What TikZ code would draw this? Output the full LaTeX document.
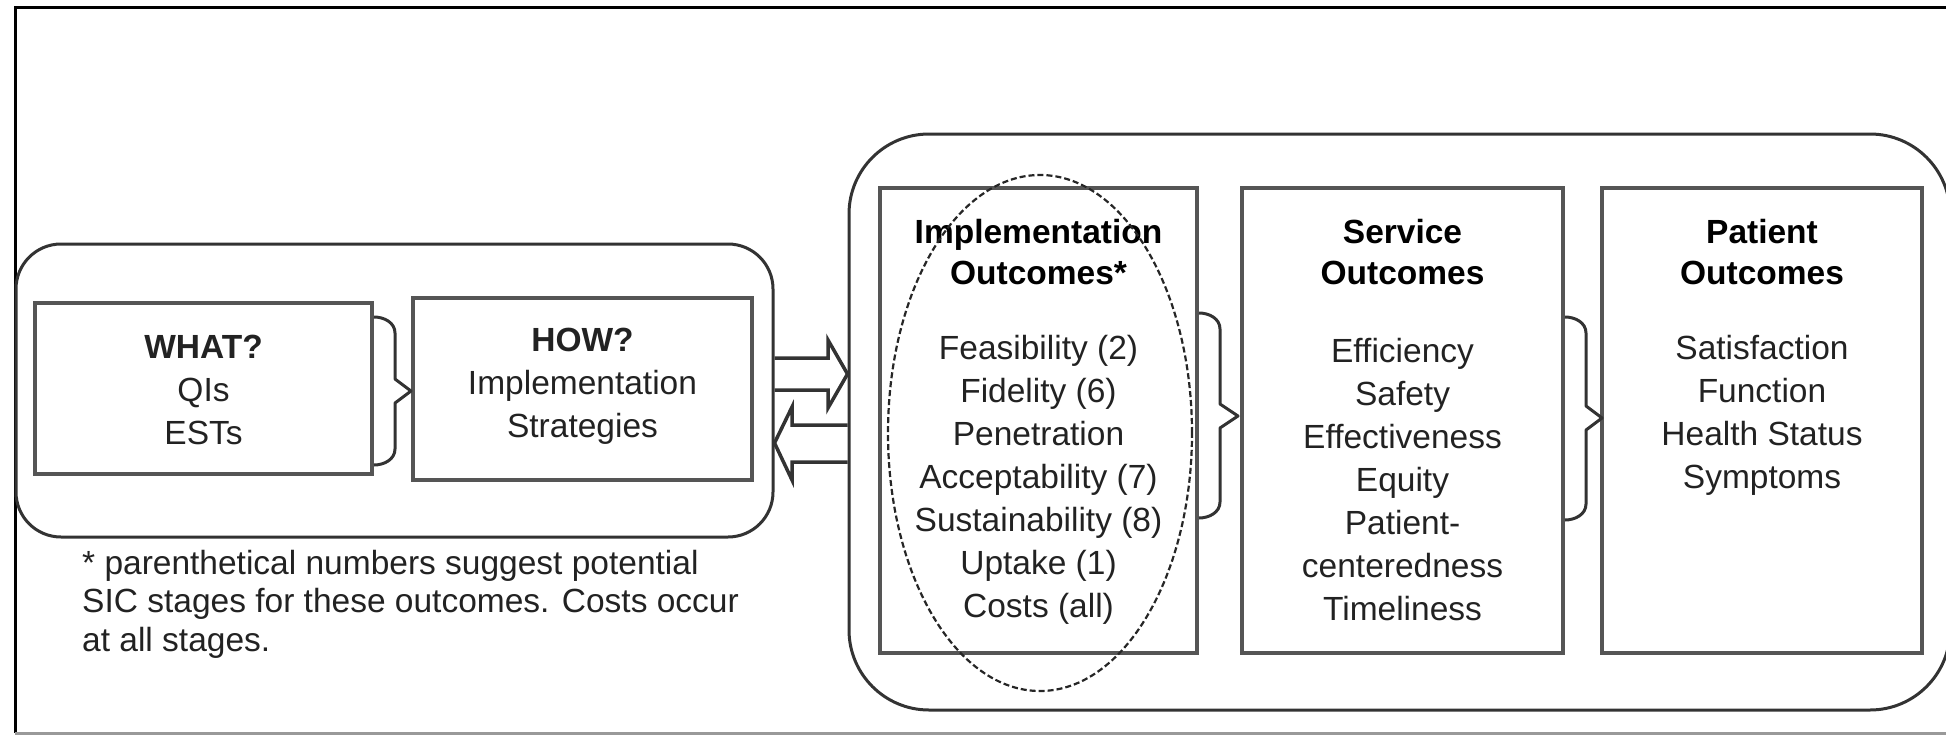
\documentclass[tikz,border=0pt]{standalone}
\usepackage{fontspec}
\setmainfont{Liberation Sans}
\usetikzlibrary{calc,shapes.geometric}
\definecolor{boxline}{HTML}{555555}
\definecolor{groupline}{HTML}{333333}
\definecolor{ink}{HTML}{222222}
\begin{document}
\begin{tikzpicture}[x=1pt,y=-1pt,
  group/.style={draw=groupline, line width=3pt, rounded corners=#1, inner sep=0pt},
  box/.style={draw=boxline, line width=4pt, inner sep=0pt},
  txt/.style={font=\fontsize{33.5}{43}\selectfont, text=ink, align=center, inner sep=0pt},
  head/.style={font=\bfseries\fontsize{33.5}{41}\selectfont, text=black, align=center, inner sep=0pt},
  note/.style={font=\fontsize{33.5}{38.5}\selectfont, text=ink, align=left, inner sep=0pt, anchor=west},
  brace/.style={draw=groupline, line width=3pt, line join=round},
  fatarrow/.style={draw=groupline, line width=3.5pt, line join=miter},
  focus/.style={draw=black!85, line width=2.2pt, dash pattern=on 6pt off 3pt, ellipse, inner sep=0pt}]
\useasboundingbox (0,0) rectangle (1946,736);

% page frame
\draw[line width=3pt, black] (1952,7) -- (15,7) -- (15,733);
\draw[line width=3pt, black!40] (15,733) -- (1952,733);

% the two groups
\node[group=45pt, minimum width=757pt, minimum height=293pt] (lgrp) at (394.5,390.5) {};
\node[group=80pt, minimum width=1101pt, minimum height=576pt] (rgrp) at (1399.5,422) {};

% left group boxes
\node[box, minimum width=337pt, minimum height=171pt] (what) at (203.5,388.5) {};
\node[box, minimum width=339pt, minimum height=182pt] (how) at (582.5,389) {};
\node[txt] (whatT) at (203.5,390) {\textbf{WHAT?}\\QIs\\ESTs};
\node[txt] (howT) at (582.5,386) {\textbf{HOW?}\\Implementation\\Strategies};

% outcome boxes
\node[box, minimum width=317pt, minimum height=465pt] (impl) at (1038.5,420.5) {};
\node[box, minimum width=321pt, minimum height=465pt] (serv) at (1402.5,420.5) {};
\node[box, minimum width=320pt, minimum height=465pt] (pat) at (1762,420.5) {};

\node[head] (implH) at (1038.5,252) {Implementation\\Outcomes*};
\node[head] (servH) at (1402.5,252) {Service\\Outcomes};
\node[head] (patH) at (1762,252) {Patient\\Outcomes};

\node[txt] (implL) at (1038.5,480) {Feasibility (2)\\Fidelity (6)\\Penetration\\Acceptability (7)\\Sustainability (8)\\Uptake (1)\\Costs (all)};
\node[txt] (servL) at (1402.5,480) {Efficiency\\Safety\\Effectiveness\\Equity\\Patient-\\centeredness\\Timeliness};
\node[txt] (patL) at (1762,415) {Satisfaction\\Function\\Health Status\\Symptoms};

% braces joining the boxes
\draw[brace] (what.east |- 0,317) to[out=0,in=90] (395,333) -- (395,379)
  -- (411,391) -- (395,403) -- (395,449) to[out=-90,in=0] (what.east |- 0,465);
\draw[brace] (impl.east |- 0,313) to[out=0,in=90] (1220,329) -- (1220,404)
  -- (1238,416) -- (1220,428) -- (1220,502) to[out=-90,in=0] (impl.east |- 0,518);
\draw[brace] (serv.east |- 0,317) to[out=0,in=90] (1586,333) -- (1586,406)
  -- (1602,418) -- (1586,430) -- (1586,504) to[out=-90,in=0] (serv.east |- 0,520);

% block arrows between the groups
\draw[fatarrow] (lgrp.east |- 0,358) -- (828,358) -- (828,340) -- (rgrp.west |- 0,374)
  -- (828,408) -- (828,390) -- (lgrp.east |- 0,390);
\draw[fatarrow] (rgrp.west |- 0,425) -- (792,425) -- (792,407) -- (lgrp.east |- 0,443)
  -- (792,480) -- (792,462) -- (rgrp.west |- 0,462);

% dashed ellipse round the implementation outcomes
\node[focus, minimum width=304pt, minimum height=516pt] (ring) at (1040,433) {};

% footnote
\node[note] (fn) at (82,604) {* parenthetical numbers suggest potential\\SIC stages for these outcomes. Costs occur\\at all stages.};
\end{tikzpicture}
\end{document}
